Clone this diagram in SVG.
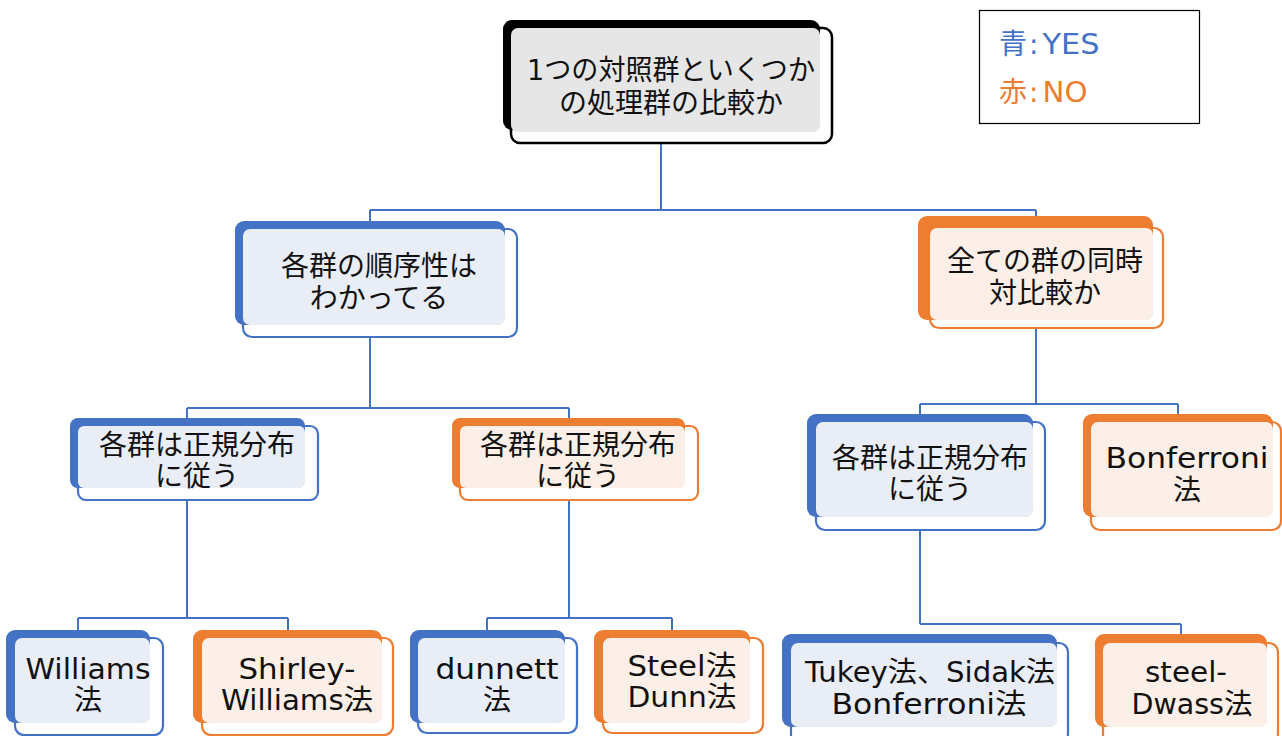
<svg xmlns="http://www.w3.org/2000/svg" width="1282" height="736" viewBox="0 0 1282 736">
<style>
.bg{fill:#ffffff}
.con{fill:none;stroke:#4472C4;stroke-width:2}
.t{font-family:"DejaVu Sans","Noto Sans CJK JP",sans-serif;font-size:28px;fill:#111111;text-anchor:middle}
.ob{fill:#ffffff;fill-opacity:0.85;stroke:#4472C4;stroke-width:2.2}
.oo{fill:#ffffff;fill-opacity:0.85;stroke:#ED7D31;stroke-width:2.2}
.ok{fill:#ffffff;fill-opacity:0.85;stroke:#000000;stroke-width:2.5}
.bb{fill:#4472C4}
.bo{fill:#ED7D31}
.bk{fill:#000000}
.lb{fill:#E9EDF6}
.lo{fill:#FBEFE7}
.lk{fill:#E6E6E6}
.lg{font-family:"DejaVu Sans","Noto Sans CJK JP",sans-serif;font-size:28px}
</style>
<rect class="bg" x="0" y="0" width="1282" height="736"/>
<g id="connectors">
<path class="con" d="M661,143 V210 M370,210 H1036 M370,210 V221 M1036,210 V216"/>
<path class="con" d="M370,337 V408 M187,408 H569 M187,408 V418 M569,408 V418"/>
<path class="con" d="M1036,328 V404 M920,404 H1178 M920,404 V414 M1178,404 V414"/>
<path class="con" d="M187,500 V618 M78,618 H288 M78,618 V630 M288,618 V630"/>
<path class="con" d="M569,500 V618 M487,618 H672 M487,618 V630 M672,618 V630"/>
<path class="con" d="M920,530 V624 M920,624 H1181 M1181,624 V634"/>
</g>
<g id="legend">
<rect x="979.5" y="10.5" width="220" height="113" fill="#ffffff" stroke="#000000" stroke-width="1.2"/>
<text class="lg" x="999" y="54" fill="#4472C4">青<tspan dx="2">:</tspan><tspan dx="4" textLength="57" lengthAdjust="spacingAndGlyphs">YES</tspan></text>
<text class="lg" x="999" y="102" fill="#ED7D31">赤<tspan dx="2">:</tspan><tspan dx="4" textLength="45" lengthAdjust="spacingAndGlyphs">NO</tspan></text>
</g>
<g id="n-root">
<rect class="ok" x="511" y="28" width="321" height="115" rx="9"/>
<rect class="bk" x="503" y="20" width="317" height="110" rx="9"/>
<rect class="lk" x="511" y="28" width="309" height="104" rx="7"/>
<text class="t"><tspan x="671" y="80" textLength="288" lengthAdjust="spacingAndGlyphs">1つの対照群といくつか</tspan><tspan x="671" y="113">の処理群の比較か</tspan></text>
</g>
<g id="n-order">
<rect class="ob" x="243" y="229" width="274" height="108" rx="9"/>
<rect class="bb" x="235" y="221" width="270" height="104" rx="9"/>
<rect class="lb" x="243" y="229" width="262" height="96" rx="7"/>
<text class="t"><tspan x="379" y="276">各群の順序性は</tspan><tspan x="379" y="308">わかってる</tspan></text>
</g>
<g id="n-all">
<rect class="oo" x="930" y="228" width="233" height="100" rx="9"/>
<rect class="bo" x="918" y="216" width="235" height="104" rx="9"/>
<rect class="lo" x="930" y="228" width="223" height="92" rx="7"/>
<text class="t"><tspan x="1045" y="271">全ての群の同時</tspan><tspan x="1045" y="303">対比較か</tspan></text>
</g>
<g id="n-norm1">
<rect class="ob" x="78" y="426" width="240" height="74" rx="8"/>
<rect class="bb" x="70" y="418" width="235" height="70" rx="8"/>
<rect class="lb" x="78" y="426" width="227" height="62" rx="6"/>
<text class="t"><tspan x="197" y="455">各群は正規分布</tspan><tspan x="197" y="486">に従う</tspan></text>
</g>
<g id="n-norm2">
<rect class="oo" x="460" y="426" width="238" height="74" rx="8"/>
<rect class="bo" x="452" y="418" width="233" height="70" rx="8"/>
<rect class="lo" x="460" y="426" width="225" height="62" rx="6"/>
<text class="t"><tspan x="578" y="455">各群は正規分布</tspan><tspan x="578" y="486">に従う</tspan></text>
</g>
<g id="n-norm3">
<rect class="ob" x="816" y="422" width="229" height="108" rx="9"/>
<rect class="bb" x="807" y="414" width="226" height="103" rx="9"/>
<rect class="lb" x="816" y="422" width="217" height="95" rx="7"/>
<text class="t"><tspan x="930" y="468">各群は正規分布</tspan><tspan x="930" y="499">に従う</tspan></text>
</g>
<g id="n-bonf">
<rect class="oo" x="1091" y="422" width="190" height="108" rx="9"/>
<rect class="bo" x="1083" y="414" width="190" height="103" rx="9"/>
<rect class="lo" x="1091" y="422" width="182" height="95" rx="7"/>
<text class="t"><tspan x="1187" y="468" textLength="163" lengthAdjust="spacingAndGlyphs">Bonferroni</tspan><tspan x="1187" y="500">法</tspan></text>
</g>
<g id="n-williams">
<rect class="ob" x="15" y="638" width="148" height="97" rx="9"/>
<rect class="bb" x="6" y="630" width="144" height="93" rx="9"/>
<rect class="lb" x="15" y="638" width="135" height="85" rx="7"/>
<text class="t"><tspan x="88" y="679" textLength="125" lengthAdjust="spacingAndGlyphs">Williams</tspan><tspan x="88" y="710">法</tspan></text>
</g>
<g id="n-shirley">
<rect class="oo" x="202" y="638" width="191" height="97" rx="9"/>
<rect class="bo" x="193" y="630" width="189" height="93" rx="9"/>
<rect class="lo" x="202" y="638" width="180" height="85" rx="7"/>
<text class="t"><tspan x="297" y="679" textLength="117" lengthAdjust="spacingAndGlyphs">Shirley-</tspan><tspan x="297" y="710" textLength="152" lengthAdjust="spacingAndGlyphs">Williams法</tspan></text>
</g>
<g id="n-dunnett">
<rect class="ob" x="418" y="638" width="159" height="95" rx="9"/>
<rect class="bb" x="410" y="630" width="155" height="93" rx="9"/>
<rect class="lb" x="418" y="638" width="147" height="85" rx="7"/>
<text class="t"><tspan x="497" y="679" textLength="123" lengthAdjust="spacingAndGlyphs">dunnett</tspan><tspan x="497" y="710">法</tspan></text>
</g>
<g id="n-steel">
<rect class="oo" x="603" y="638" width="160" height="95" rx="9"/>
<rect class="bo" x="594" y="630" width="156" height="93" rx="9"/>
<rect class="lo" x="603" y="638" width="147" height="85" rx="7"/>
<text class="t"><tspan x="682" y="676" textLength="109" lengthAdjust="spacingAndGlyphs">Steel法</tspan><tspan x="682" y="707" textLength="109" lengthAdjust="spacingAndGlyphs">Dunn法</tspan></text>
</g>
<g id="n-tukey">
<rect class="ob" x="791" y="643" width="277" height="100" rx="9"/>
<rect class="bb" x="782" y="634" width="275" height="93" rx="9"/>
<rect class="lb" x="791" y="643" width="266" height="84" rx="7"/>
<text class="t"><tspan x="930" y="682" textLength="250" lengthAdjust="spacingAndGlyphs">Tukey法、Sidak法</tspan><tspan x="929" y="714" textLength="195" lengthAdjust="spacingAndGlyphs">Bonferroni法</tspan></text>
</g>
<g id="n-dwass">
<rect class="oo" x="1103" y="643" width="175" height="100" rx="9"/>
<rect class="bo" x="1095" y="634" width="172" height="93" rx="9"/>
<rect class="lo" x="1103" y="643" width="164" height="84" rx="7"/>
<text class="t"><tspan x="1186" y="682" textLength="82" lengthAdjust="spacingAndGlyphs">steel-</tspan><tspan x="1192" y="714" textLength="121" lengthAdjust="spacingAndGlyphs">Dwass法</tspan></text>
</g>
</svg>
